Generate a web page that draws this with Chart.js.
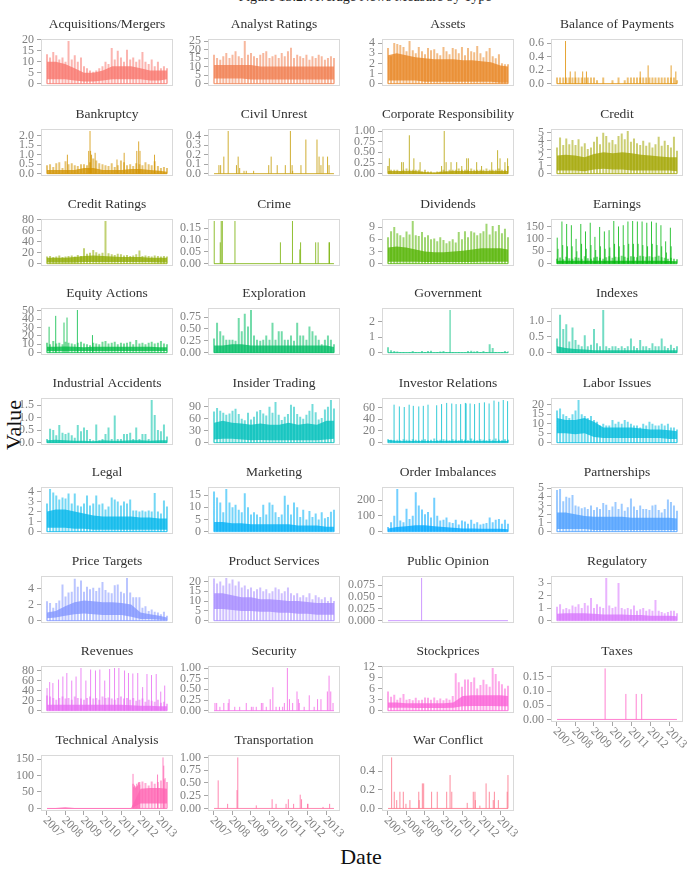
<!DOCTYPE html>
<html>
<head>
<meta charset="utf-8">
<script src="https://cdn.jsdelivr.net/npm/chart.js@4/dist/chart.umd.min.js"></script>
<style>
  body { margin:0; width:693px; height:872px; position:relative; overflow:hidden; background:#fff; font-family:"Liberation Serif", serif; }
  #fig-title { position:absolute; left:165px; width:400px; top:-10px; text-align:center; font-size:14px; line-height:14px; color:#222; }
  #ylab { position:absolute; left:-6px; top:418px; width:40px; text-align:center; font-size:22px; line-height:24px; transform:rotate(-90deg); color:#111; }
  #xlab { position:absolute; left:311px; width:100px; top:845px; text-align:center; font-size:22px; line-height:24px; color:#111; }
  canvas { position:absolute; }
</style>
</head>
<body>
<div id="fig-title">Figure 13.2: Average News Measure by Type</div>
<div id="ylab">Value</div>
<div id="xlab">Date</div>
<div id="panels"></div>
<script>
// facet names, in panel order
var categories = ['Acquisitions/Mergers','Analyst Ratings','Assets','Balance of Payments',
  'Bankruptcy','Civil Unrest','Corporate Responsibility','Credit',
  'Credit Ratings','Crime','Dividends','Earnings',
  'Equity Actions','Exploration','Government','Indexes',
  'Industrial Accidents','Insider Trading','Investor Relations','Labor Issues',
  'Legal','Marketing','Order Imbalances','Partnerships',
  'Price Targets','Product Services','Public Opinion','Regulatory',
  'Revenues','Security','Stockprices','Taxes',
  'Technical Analysis','Transportation','War Conflict'];

var yTicks = [
  ['0','5','10','15','20'], ['0','5','10','15','20','25'], ['0','1','2','3','4'], ['0.0','0.2','0.4','0.6'],
  ['0.0','0.5','1.0','1.5','2.0'], ['0.0','0.1','0.2','0.3','0.4'], ['0.00','0.25','0.50','0.75','1.00'], ['0','1','2','3','4','5'],
  ['0','20','40','60','80'], ['0.00','0.05','0.10','0.15'], ['0','3','6','9'], ['0','50','100','150'],
  ['0','10','20','30','40','50'], ['0.00','0.25','0.50','0.75'], ['0','1','2'], ['0.0','0.5','1.0'],
  ['0.0','0.5','1.0','1.5'], ['0','30','60','90'], ['0','20','40','60'], ['0','5','10','15','20'],
  ['0','1','2','3','4'], ['0','5','10','15'], ['0','100','200'], ['0','1','2','3','4','5'],
  ['0','2','4'], ['0','5','10','15','20'], ['0.000','0.025','0.050','0.075'], ['0','1','2','3'],
  ['0','20','40','60','80'], ['0.00','0.25','0.50','0.75','1.00'], ['0','3','6','9','12'], ['0.00','0.05','0.10','0.15'],
  ['0','50','100','150'], ['0.00','0.25','0.50','0.75','1.00'], ['0.0','0.2','0.4']
];

var xYears = [2007, 2008, 2009, 2010, 2011, 2012, 2013];

// half-yearly dates for the dense body of each series
var bandDates = [2007.04, 2007.5, 2008.0, 2008.5, 2009.0, 2009.5, 2010.0, 2010.5, 2011.0, 2011.5, 2012.0, 2012.5, 2013.0, 2013.4];

var bandHi = [
  [10,10,9,7,5,5,6,8,8,8,7,6,6,6],
  [11,11,11,11,11,10,10,10,10,10,10,10,10,10],
  [2.8,3,2.8,2.6,2.5,2.4,2.4,2.4,2.3,2.3,2.2,2.1,1.8,1.7],
  [],
  [0.2,0.2,0.2,0.2,0.3,0.3,0.2,0.2,0.2,0.25,0.25,0.2,0.15,0.1],
  [],
  [0.06,0.06,0.06,0.06,0.04,0.03,0.05,0.06,0.06,0.06,0.06,0.06,0.06,0.06],
  [2.2,2.3,2.2,2,2.4,2.6,2.5,2.6,2.5,2.3,2.2,2.1,2,2],
  [11,11,11,12,14,15,14,13,12,12,12,11,11,11],
  [],
  [4,4.2,4,3.5,3,2.8,2.8,3,3.2,3.5,3.8,3.8,3.8,3.5],
  [12,12,12,12,12,12,12,12,12,12,12,12,11,10],
  [7,7,7.5,7,6.5,7,7,7,7,7,7,7,6.5,6.5],
  [0.15,0.15,0.18,0.18,0.15,0.15,0.15,0.15,0.15,0.15,0.15,0.15,0.15,0.12],
  [],
  [0.2,0.15,0.12,0.1,0.08,0.08,0.08,0.08,0.08,0.08,0.08,0.08,0.08,0.08],
  [0.1,0.12,0.1,0.08,0.08,0.06,0.1,0.08,0.08,0.1,0.1,0.08,0.1,0.1],
  [50,55,50,48,45,48,45,45,50,45,48,45,55,55],
  [5,3,3,3,3,3,3,3,3,3,3,3,3,3],
  [13,12,12,13,11,8,8,8,8,7.5,7,7,6.5,6],
  [2,2.2,2.2,2,1.8,1.6,1.5,1.5,1.5,1.5,1.4,1.4,1.3,1.3],
  [4,4,3.5,3.5,3,3,3,3,3,2.5,2.5,2.5,2,2],
  [20,30,35,40,40,35,30,25,20,20,18,18,18,15],
  [2.2,2.2,2,1.8,1.7,1.7,1.7,1.7,1.6,1.6,1.6,1.6,1.6,1.5],
  [1,1.2,1.8,2.3,2.5,2.4,2.3,2.3,2.2,2,1,0.8,0.6,0.4],
  [14,14,13,12,12,11,11,10.5,10,10,9.5,9,9,9],
  [],
  [0.55,0.6,0.6,0.6,0.55,0.5,0.5,0.5,0.45,0.45,0.4,0.4,0.4,0.35],
  [12,12,12,12,12,12,12,12,12,11,10,10,9,9],
  [],
  [2.2,2.2,2,2,2,2,2,2.2,4,4.2,4.2,4.2,4.2,4],
  [],
  [1,1.5,4,1.5,1,1,1,1,1,1,60,62,62,60],
  [],
  []
];

var bandLo = [
  [2,2,2,1.5,1,1,1.5,2,2,2,2,1.5,1.5,2],
  [3,3,3,3,2.5,2.5,2.5,2.5,2.5,2.5,2.5,2.5,2.5,2.5],
  [0.3,0.3,0.3,0.3,0.2,0.2,0.2,0.2,0.2,0.2,0.2,0.2,0.1,0.1],
  [], [], [], [],
  [0.4,0.4,0.4,0.3,0.5,0.6,0.5,0.5,0.4,0.4,0.4,0.4,0.4,0.3],
  [2,2,2,2,3,3,3,3,3,3,3,3,2,2],
  [],
  [0.5,0.5,0.5,0.5,0.4,0.4,0.4,0.4,0.4,0.4,0.5,0.5,0.5,0.5],
  [2,2,2,2,2,2,2,2,2,2,2,2,2,2],
  [2,2,2,2,2,2,2,2,2,2,2,2,2,2],
  [], [], [], [],
  [8,10,10,8,6,7,6,6,6,6,6,6,8,10],
  [1,0.5,0.5,0.5,0.5,0.5,0.5,0.5,0.5,0.5,0.5,0.5,0.5,0.5],
  [5,5,4.5,5,3,2.5,2.5,2.5,2.5,2.5,2.5,2.5,2,2],
  [0.4,0.4,0.4,0.3,0.3,0.2,0.2,0.2,0.2,0.2,0.2,0.2,0.2,0.2],
  [0.3,0.3,0.3,0.3,0.3,0.3,0.3,0.3,0.3,0.3,0.3,0.3,0.3,0.3],
  [3,5,5,5,5,5,4,3,3,3,3,3,3,3],
  [0.3,0.3,0.3,0.3,0.2,0.2,0.2,0.2,0.2,0.2,0.2,0.2,0.2,0.2],
  [0.3,0.4,0.6,0.8,0.9,0.8,0.7,0.7,0.7,0.5,0.2,0.2,0.1,0.05],
  [6,6,5.5,5,5,4.5,4.5,4,4,3.5,3.5,3,3,3],
  [],
  [0.05,0.05,0.05,0.05,0.05,0.05,0.05,0.05,0.05,0.05,0.05,0.05,0.05,0.05],
  [1,1,1,1,1,1,1,1,1,1,1,1,1,1],
  [],
  [0.8,0.8,0.8,0.7,0.7,0.7,0.7,0.8,1.2,1.3,1.3,1.3,1.2,1.2],
  [],
  [0,0,0,0,0,0,0,0,0,0,15,15,15,15],
  [],
  []
];

// peaks read across each panel at regular dates
var combDates = [2007.04,2007.20,2007.37,2007.53,2007.69,2007.86,2008.02,2008.18,2008.35,2008.51,
  2008.67,2008.84,2009.00,2009.16,2009.32,2009.49,2009.65,2009.81,2009.98,2010.14,
  2010.30,2010.47,2010.63,2010.79,2010.96,2011.12,2011.28,2011.45,2011.61,2011.77,
  2011.94,2012.10,2012.26,2012.43,2012.59,2012.75,2012.92,2013.08,2013.24,2013.40];

var combVals = [
  [13.5,12,14.5,13,11,12,10,19.5,11,13, 10,12,8,7,6,5.5,6,7,8,10, 9,16.3,11,15,12,10,15.5,11,12,10, 11,14.5,10,9,11,8,10,7,8,7],
  [17,15,14,16,18,15,17,19,16,15, 25,17,18,16,15,17,18,19,15,16, 17,15,18,16,19,21,15,17,16,15, 17,14,16,15,17,16,14,15,16,15],
  [3.5,2.7,4.0,3.9,3.8,3.6,3.2,4.2,3.3,3.0, 3.6,3.2,2.9,3.5,3.3,3.4,3.0,2.8,3.6,3.2, 2.9,3.5,3.4,3.0,3.6,2.8,3.5,3.2,3.1,3.7, 3.0,2.6,3.2,3.5,2.7,2.5,2.9,2.0,1.9,1.9],
  [0.09,0.09,0.09,0.09,0.09,0.09,0.09,0.09,0.09,0.09, 0.09,0.09,0.09,0.05,0,0.09,0,0,0.05,0, 0.09,0,0.05,0.09,0.09,0.09,0.09,0.09,0.09,0.09, 0.09,0.09,0.09,0.09,0.09,0.09,0.09,0.09,0.09,0.05],
  [0.45,0.5,0.35,0.55,0.6,0.3,0.65,0.5,0.55,0.45, 0.4,0.5,0.5,0.45,0.6,0.8,0.7,0.55,0.5,0.45, 0.4,0.55,0.35,0.45,0.7,0.6,0.45,0.5,0.4,0.55, 0.5,0.45,0.6,0.5,0.45,0.65,0.4,0.3,0.35,0.3],
  [],
  [0.18,0.09,0.09,0.09,0.05,0.09,0.12,0.09,0.09,0.09, 0.09,0.05,0.09,0.05,0.05,0.03,0.05,0.05,0.09,0.05, 0.09,0.09,0.09,0.12,0.09,0.09,0.09,0.12,0.09,0.09, 0.09,0.09,0.12,0.09,0.09,0.09,0.12,0.09,0.09,0.18],
  [3.2,4.4,3.5,4.3,3.6,4.1,3.5,4.2,3.3,3.7, 3.0,3.2,3.9,4.5,3.6,5.0,4.6,3.8,4.1,3.6, 4.6,4.9,4.2,5.2,3.9,4.3,3.7,3.5,4.0,3.4, 3.8,3.2,3.6,4.5,3.4,4.0,3.5,3.2,4.5,2.8],
  [13,14,12,13,15,12,13,14,15,13, 16,14,28,18,20,25,21,18,20,78, 19,17,16,18,17,15,16,14,15,17, 24,14,15,14,13,15,14,13,14,13],
  [],
  [6.5,8,9,7.5,7,6.5,7.9,7.2,10.5,7, 6.8,7.8,6.5,7,6,6.2,5.5,6.5,5.8,5, 5.5,6,5.2,7.8,6,8,6.5,8,7.7,7, 7.5,8,9.8,7.2,9.3,8,9.5,7.5,8.6,6.5],
  [20,25,18,28,22,20,26,24,20,30, 22,20,25,28,24,20,26,30,24,28, 26,32,28,24,30,28,26,32,30,28, 30,26,28,32,26,24,20,24,20,18],
  [12,10,14,11,12,10,13,12,11,10, 12,13,11,10,9,12,11,10,13,14, 11,12,13,10,12,11,12,13,10,15, 11,12,10,12,13,11,12,14,11,10],
  [0.3,0.63,0.45,0.36,0.27,0.27,0.27,0.25,0.73,0.45, 0.82,0.55,0.9,0.36,0.27,0.25,0.27,0.36,0.27,0.63, 0.27,0.45,0.45,0.27,0.27,0.36,0.25,0.63,0.36,0.36, 0.27,0.55,0.45,0.36,0.27,0.18,0.27,0.36,0.27,0.18],
  [0.35,0.15,0.1,0.08,0.05,0.05,0.02,0.05,0.1,0.05, 0.02,0.1,0.05,0.1,0.12,0.02,0.05,0.08,0.1,0.05, 0.05,0.05,0.02,0.05,0.02,0.02,0.1,0.12,0.08,0.1, 0.05,0.1,0.05,0.55,0.3,0.05,0.02,0.05,0.1,0.08],
  [0.45,1.2,0.75,0.9,0.35,0.8,0.4,0.25,0.2,0.55, 0.2,0.25,0.75,0.3,0.2,1.35,0.2,0.15,0.2,0.2, 0.15,0.2,0.15,0.2,0.45,0.2,0.15,0.4,0.2,0.2, 0.15,0.3,0.2,0.2,0.45,0.2,0.15,0.25,0.15,0.2],
  [0.15,0.55,0.5,0.3,0.7,0.4,0.35,0.4,0.3,0.2, 0.7,0.45,0.6,0.5,0.15,0.1,0.72,0.1,0.15,0.35, 0.6,0.15,1.08,0.15,0.15,0.35,0.35,0.4,0.15,0.6, 0.15,0.35,0.35,0.15,1.7,1.1,0.5,0.45,0.72,0.25],
  [78,87,80,75,70,73,80,85,72,60, 56,75,58,65,78,82,73,68,90,75, 102,70,57,65,72,95,90,72,65,60, 70,80,97,76,58,62,83,90,107,86],
  [6,5,4,5,4,6,5,4,6,5, 4,5,6,4,5,7,4,5,6,5, 4,6,5,4,6,5,4,7,5,4, 6,5,4,6,5,7,5,4,6,5],
  [17,18,15,14,13,15,17,22.5,15,14, 13,14,12,11,9,10,9,9,12,10, 11,10,12,11,10,9,9,8,10,9, 11,10,9,9,10,9,10,8,8,7],
  [2.8,4.25,3.9,3.6,3.2,3.4,3.3,3.8,2.8,3.8, 2.6,2.5,2.8,3.6,2.6,2.8,3.6,2.7,2.8,2.2, 2.5,3.4,3.2,3.0,2.6,3.0,2.8,3.2,2.1,2.1, 2.0,2.1,2.0,2.1,2.0,3.85,2.0,1.8,3.1,2.5],
  [16.5,14,12,8,17.5,12,10,11,9,8, 15.8,10,7,8,7,6,11,7,12,11, 8,6,7,14.7,11,7,12,10,6,9, 5,8.5,6,7.5,5,8,5.5,6,8.2,9],
  [30,60,100,270,70,60,145,80,100,250, 165,140,110,125,90,215,100,70,75,90, 60,55,75,45,70,65,50,75,50,60, 45,50,55,90,60,75,80,50,75,50],
  [4.8,4.9,3.5,4.0,3.9,4.2,3.0,2.9,2.7,2.8, 2.6,3.0,2.5,2.8,2.6,3.3,3.1,2.5,2.9,3.4, 2.6,3.2,2.4,2.8,3.8,2.9,2.5,3.0,2.6,2.6, 2.5,3.0,3.1,2.5,2.2,2.6,3.7,3.4,3.0,2.4],
  [2.4,2.2,1.6,2.2,2.5,4.5,3.0,3.5,3.6,5.2, 4.2,5.0,3.6,4.2,3.9,4.1,3.7,4.1,4.8,3.8, 3.5,3.4,4.4,4.5,3.6,3.4,5.3,3.5,2.9,2.9, 2.9,1.6,1.8,1.2,1.4,1.1,1.0,0.8,1.1,0.6],
  [21.5,19,20,18,21.8,19,21,18,20,17, 18,16,17,15,16,17,15,16,14,15, 17,16,14,15,17,14,13,14,12,13, 12,14,11,13,12,11,12,10,12,10],
  [],
  [1.1,1.3,0.9,1.0,0.9,1.2,1.1,1.3,1.0,1.4, 1.2,1.8,1.0,1.3,1.1,1.0,3.4,1.2,1.0,1.1, 3.0,1.0,0.9,1.0,0.9,1.2,0.8,0.9,1.0,0.8, 0.9,0.8,1.65,0.8,0.7,0.6,0.7,0.8,0.8,0.6],
  [30,28,25,22,25,28,24,25,22,28, 25,24,22,25,28,24,25,22,28,25, 26,24,22,25,28,24,25,22,25,20, 22,24,18,22,20,18,22,16,18,14],
  [],
  [5.2,3.8,4.3,3.0,3.5,4.5,3.0,3.2,2.8,3.5, 2.8,3.0,3.6,3.5,3.0,3.6,2.8,3.3,2.8,3.3, 3.0,4.0,10.2,7.7,6.5,8.5,8.5,7.8,9.0,6.0, 7.0,8.4,7.2,6.5,11.6,10.0,8.0,7.2,6.0,6.8],
  [],
  [0,0,0,0,0,0,0,0,0,0, 0,0,0,0,0,0,0,0,0,0, 0,0,0,0,0,0,0,0,75,65, 80,82,77,70,82,75,80,85,88,80],
  [],
  []
];

var spikeDates = [
  [], [], [],
  [2007.49,2007.74,2008.0,2008.4,2008.6,2011.45,2011.87,2013.09,2013.34],
  [2008.12,2009.25,2009.32,2009.35,2009.4,2009.59,2010.75,2011.13,2011.8,2011.9,2011.97,2012.74],
  [2007.30,2007.39,2007.56,2007.79,2008.23,2008.32,2008.40,2008.63,2008.75,2009.14,2009.94,2010.07,2010.39,2010.82,2011.09,2011.18,2011.21,2011.65,2011.91,2012.50,2012.61,2012.71,2012.82,2013.06,2013.14],
  [2007.11,2007.76,2007.85,2008.17,2008.41,2008.74,2009.88,2010.02,2010.12,2010.38,2010.68,2010.95,2011.21,2011.30,2011.74,2012.0,2012.54,2012.85,2012.98,2013.24,2013.38],
  [], [],
  [2007.05,2007.37,2007.42,2007.48,2008.15,2010.56,2011.2,2011.59,2011.63,2012.43,2012.56,2013.14,2013.16],
  [],
  [2007.05,2007.30,2007.55,2007.80,2008.05,2008.30,2008.55,2008.80,2009.05,2009.30,2009.55,2009.80,2010.05,2010.30,2010.55,2010.80,2011.05,2011.30,2011.55,2011.80,2012.05,2012.30,2012.55,2012.80,2013.05,
   2007.09,2007.34,2007.59,2007.84,2008.09,2008.34,2008.59,2008.84,2009.09,2009.34,2009.59,2009.84,2010.09,2010.34,2010.59,2010.84,2011.09,2011.34,2011.59,2011.84,2012.09,2012.34,2012.59,2012.84,2013.09],
  [2007.15,2007.50,2007.94,2008.10,2008.65,2009.45],
  [],
  [2010.33],
  [], [], [],
  [2007.36,2007.64,2007.90,2008.16,2008.38,2008.67,2008.91,2009.16,2009.62,2009.88,2010.15,2010.42,2010.65,2010.89,2011.14,2011.18,2011.39,2011.63,2011.88,2012.15,2012.40,2012.66,2012.91,2013.15,2013.38],
  [], [], [], [], [], [], [],
  [2008.82],
  [],
  [2007.04,2007.18,2007.35,2007.65,2007.88,2008.09,2008.35,2008.58,2008.84,2009.1,2009.35,2009.61,2009.84,2010.1,2010.36,2010.62,2010.85,2011.15,2011.36,2011.59,2011.85,2012.11,2012.34,2012.58,2012.83,2013.07,2013.28],
  [2007.09,2007.18,2007.35,2007.56,2007.79,2007.84,2008.14,2008.40,2008.75,2009.02,2009.11,2009.28,2009.55,2009.63,2009.81,2010.02,2010.16,2010.33,2010.51,2010.68,2010.77,2010.93,2011.04,2011.21,2011.44,2011.51,2011.56,2011.82,2012.09,2012.35,2012.53,2012.71,2013.05,2013.14,2013.23,2013.35],
  [],
  [2009.59,2010.69,2011.24,2011.53],
  [2011.60,2011.64,2011.68,2011.72,2011.76,2011.80,2011.84,2011.88,2011.92,2011.96,2012.9,2013.19,2013.23,2013.3],
  [2007.26,2007.76,2008.26,2008.30,2009.28,2010.12,2010.33,2010.86,2010.98,2011.26,2011.61,2011.68,2012.0,2012.02,2012.82,2013.17],
  [2007.23,2007.37,2007.50,2007.67,2007.85,2007.99,2008.20,2008.67,2008.69,2008.86,2008.93,2009.35,2009.65,2010.15,2010.33,2010.42,2011.24,2011.56,2011.65,2011.67,2011.91,2012.24,2012.41,2012.62,2012.68,2012.89,2013.36,2013.40]
];

var spikeVals = [
  [], [], [],
  [0.63,0.18,0.18,0.18,0.18,0.18,0.27,0.27,0.18],
  [1.0,1.2,2.25,1.2,1.0,1.1,0.75,1.1,1.2,1.7,1.2,1.0],
  [0.09,0.09,0.18,0.45,0.09,0.18,0.06,0.03,0.03,0.03,0.09,0.18,0.09,0.09,0.45,0.09,0.03,0.09,0.36,0.36,0.18,0.09,0.18,0.18,0.09],
  [0.36,0.27,0.27,0.9,0.36,0.27,0.18,1.0,0.27,0.27,0.27,0.18,0.36,0.36,0.27,0.18,0.27,0.55,0.36,0.27,0.36],
  [], [],
  [0.18,0.09,0.18,0.18,0.18,0.09,0.18,0.06,0.09,0.09,0.09,0.09,0.09],
  [],
  [105,170,160,155,100,160,130,165,108,148,130,135,172,150,155,170,172,170,170,165,170,165,155,90,145,
   60,75,70,70,50,80,60,75,55,70,60,65,80,70,75,80,80,80,75,70,80,75,70,45,70],
  [31,44,36,42,51,21],
  [],
  [2.75],
  [], [], [],
  [65,62,61,65,63,62,63,65,64,66,68,67,66,66,68,67,67,66,68,69,67,72,70,73,71],
  [], [], [], [], [], [], [],
  [0.09],
  [],
  [45,57,55,62,68,75,60,68,85,60,82,80,82,60,83,85,85,80,75,74,75,47,73,71,73,38,50],
  [0.18,0.18,0.09,0.18,0.18,0.27,0.09,0.09,0.18,0.09,0.09,0.09,0.18,0.18,0.09,0.27,0.55,0.09,0.09,0.09,0.18,1.0,0.27,0.18,0.45,0.27,0.18,0.09,0.36,0.09,0.27,0.27,0.45,0.82,0.45,0.18],
  [],
  [0.18,0.09,0.09,0.09],
  [105,65,70,62,68,75,70,78,80,72,103,155,130,92],
  [0.55,0.09,0.36,1.0,0.06,0.18,0.09,0.09,0.18,0.09,0.27,0.18,0.09,0.09,0.03,0.09],
  [0.55,0.18,0.09,0.18,0.18,0.05,0.09,0.18,0.09,0.27,0.27,0.18,0.18,0.18,0.36,0.18,0.06,0.18,0.18,0.09,0.03,0.27,0.18,0.09,0.18,0.09,0.18,0.36]
];

// layout of the facet grid
var colLeft = [41, 208, 382, 551];
var rowTop = [37, 127, 217, 306, 396, 485, 574, 664, 753];
var BOX_W = 132, BOX_H = 58;
var AXW = 40, TT = 21, XAH = 46;
var FONT = 'Liberation Serif';

// ggplot-like hue palette
function hclColor(h, c, l, a) {
  var hr = h * Math.PI / 180;
  var U = c * Math.cos(hr), V = c * Math.sin(hr);
  var Xn = 0.95047, Yn = 1.0, Zn = 1.08883;
  var un = 4 * Xn / (Xn + 15 * Yn + 3 * Zn), vn = 9 * Yn / (Xn + 15 * Yn + 3 * Zn);
  var Y = l > 8 ? Yn * Math.pow((l + 16) / 116, 3) : Yn * l / 903.2963;
  var u = U / (13 * l) + un, v = V / (13 * l) + vn;
  var X = Y * 9 * u / (4 * v);
  var Z = Y * (12 - 3 * u - 20 * v) / (4 * v);
  var r = 3.2404542 * X - 1.5371385 * Y - 0.4985314 * Z;
  var g = -0.9692660 * X + 1.8760108 * Y + 0.0415560 * Z;
  var b = 0.0556434 * X - 0.2040259 * Y + 1.0572252 * Z;
  function gam(t) {
    t = t <= 0.0031308 ? 12.92 * t : 1.055 * Math.pow(t, 1 / 2.4) - 0.055;
    return Math.round(255 * Math.min(1, Math.max(0, t)));
  }
  return 'rgba(' + gam(r) + ',' + gam(g) + ',' + gam(b) + ',' + a + ')';
}

var boxPlugin = {
  id: 'panelBox',
  afterDraw: function(chart) {
    var a = chart.chartArea, ctx = chart.ctx;
    ctx.save();
    ctx.strokeStyle = '#d9d9d9';
    ctx.lineWidth = 1;
    ctx.strokeRect(Math.round(a.left) + 0.5, Math.round(a.top) + 0.5, Math.round(a.right - a.left) - 1, Math.round(a.bottom - a.top) - 1);
    ctx.restore();
  }
};

var yearLabels = {
  id: 'yearLabels',
  afterDraw: function(chart) {
    if (!chart.options.plugins.yearLabels.show) return;
    var sx = chart.scales.x, ctx = chart.ctx;
    ctx.save();
    ctx.font = '12px "' + FONT + '"';
    ctx.fillStyle = '#7f7f7f';
    ctx.textAlign = 'left';
    ctx.textBaseline = 'middle';
    xYears.forEach(function(yr) {
      var px = sx.getPixelForValue(yr);
      ctx.save();
      ctx.translate(px, chart.chartArea.bottom + 9);
      ctx.rotate(Math.PI / 4);
      ctx.fillText(String(yr), -2, 0);
      ctx.restore();
    });
    ctx.restore();
  }
};

function spikePoints(dates, vals) {
  var pts = [];
  dates.forEach(function(t, i) {
    if (vals[i] > 0) pts.push({ x: t, y: 0 }, { x: t, y: vals[i] }, { x: t, y: null });
  });
  return pts;
}

var panels = document.getElementById('panels');
var n = categories.length;

categories.forEach(function(name, k) {
  var row = Math.floor(k / 4), col = k % 4;
  var isBottom = row === 8 || (row === 7 && col === 3);
  var W = AXW + BOX_W + (isBottom ? 30 : 2);
  var H = TT + BOX_H + (isBottom ? XAH : 1);
  var cv = document.createElement('canvas');
  cv.width = W; cv.height = H;
  cv.style.left = (colLeft[col] - AXW) + 'px';
  cv.style.top = (rowTop[row] - TT) + 'px';
  cv.style.width = W + 'px'; cv.style.height = H + 'px';
  panels.appendChild(cv);

  var hue = 15 + k * 360 / n;
  var lineCol = hclColor(hue, 100, 65, 0.8);
  var combCol = hclColor(hue, 100, 65, 0.55);
  var fillCol = hclColor(hue, 100, 65, 0.78);

  var datasets = [];
  if (bandHi[k].length) {
    if (bandLo[k].length) {
      datasets.push({ data: bandDates.map(function(t, i) { return { x: t, y: bandLo[k][i] }; }),
        borderColor: 'rgba(0,0,0,0)', borderWidth: 0, fill: false });
    }
    datasets.push({ data: bandDates.map(function(t, i) { return { x: t, y: bandHi[k][i] }; }),
      borderColor: 'rgba(0,0,0,0)', borderWidth: 0, backgroundColor: fillCol,
      fill: bandLo[k].length ? '-1' : 'origin' });
  }
  datasets.push({ data: [{ x: bandDates[0], y: 0 }, { x: bandDates[bandDates.length - 1], y: 0 }],
    borderColor: lineCol, borderWidth: 1, fill: false });
  datasets.push({ data: spikePoints(combDates, combVals[k]), borderColor: combCol, borderWidth: 2, fill: false, spanGaps: false });
  datasets.push({ data: spikePoints(spikeDates[k], spikeVals[k]), borderColor: lineCol, borderWidth: 1, fill: false, spanGaps: false });

  var dmax = Math.max.apply(null, bandHi[k].concat(combVals[k], spikeVals[k], [0]));
  var ticks = yTicks[k];

  new Chart(cv, {
    type: 'line',
    data: { datasets: datasets },
    options: {
      responsive: false,
      animation: false,
      devicePixelRatio: 1,
      events: [],
      elements: { point: { radius: 0 }, line: { tension: 0 } },
      layout: { autoPadding: false, padding: { left: 0, top: 0, right: isBottom ? 30 : 2, bottom: isBottom ? 0 : 1 } },
      plugins: {
        legend: { display: false },
        tooltip: { enabled: false },
        title: { display: true, text: name, fullSize: false, color: '#333',
          font: { family: FONT, size: 13.5, weight: 'normal', lineHeight: 1.25 },
          padding: { top: 0, bottom: 6 } },
        yearLabels: { show: isBottom }
      },
      scales: {
        x: {
          type: 'linear', min: 2006.72, max: 2013.72,
          display: isBottom,
          afterBuildTicks: function(s) { s.ticks = xYears.map(function(v) { return { value: v }; }); },
          afterFit: function(s) { s.height = isBottom ? XAH : 0; },
          ticks: { display: false },
          grid: { drawOnChartArea: false, drawTicks: true, tickLength: 4, color: '#a6a6a6' },
          border: { display: false }
        },
        y: {
          type: 'linear', min: -0.05 * dmax, max: 1.05 * dmax,
          afterBuildTicks: function(s) { s.ticks = ticks.map(function(t) { return { value: parseFloat(t) }; }); },
          afterFit: function(s) { s.width = AXW; },
          ticks: { autoSkip: false, padding: 3, color: '#7f7f7f', font: { family: FONT, size: 12 },
            callback: function(v, i) { return ticks[i]; } },
          grid: { drawOnChartArea: false, drawTicks: true, tickLength: 4, color: '#a6a6a6' },
          border: { display: false }
        }
      }
    },
    plugins: [boxPlugin, yearLabels]
  });
});
</script>
</body>
</html>
